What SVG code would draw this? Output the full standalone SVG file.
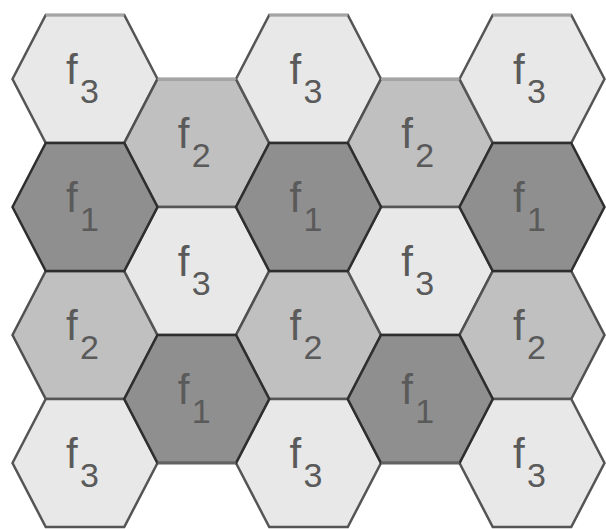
<svg xmlns="http://www.w3.org/2000/svg" width="606" height="529" viewBox="0 0 606 529">
<style>
.f1{fill:#8f8f8f;stroke:#2e2e2e}
.f2{fill:#c0c0c0;stroke:#505050}
.f3{fill:#e8e8e8;stroke:#555555}
.hex use{stroke-width:2.5;stroke-linejoin:miter}
.lbl{font-family:"Liberation Sans",Arial,sans-serif;fill:#5a5a5a;font-size:42px}
.sub{font-size:34px}
.top{stroke:#a4a4a4;stroke-width:2.5}
.bot{stroke:#626262;stroke-width:2.5}
</style>
<defs>
<polygon id="hex" points="-72.5,0 -39.25,-64 39.25,-64 72.5,0 39.25,64 -39.25,64"/>
</defs>
<rect width="606" height="529" fill="#ffffff"/>
<g class="hex">
<g id="c0r0"><use href="#hex" class="f3" x="85" y="79"/><text class="lbl" x="66" y="84">f<tspan class="sub" x="80" y="103">3</tspan></text></g>
<g id="c0r2"><use href="#hex" class="f2" x="85" y="335"/><text class="lbl" x="66" y="340">f<tspan class="sub" x="80" y="359">2</tspan></text></g>
<g id="c0r3"><use href="#hex" class="f3" x="85" y="463"/><text class="lbl" x="66" y="468">f<tspan class="sub" x="80" y="487">3</tspan></text></g>

<g id="c1r0"><use href="#hex" class="f2" x="196.75" y="143"/><text class="lbl" x="177.75" y="148">f<tspan class="sub" x="191.75" y="167">2</tspan></text></g>
<g id="c1r1"><use href="#hex" class="f3" x="196.75" y="271"/><text class="lbl" x="177.75" y="276">f<tspan class="sub" x="191.75" y="295">3</tspan></text></g>

<g id="c2r0"><use href="#hex" class="f3" x="308.5" y="79"/><text class="lbl" x="289.5" y="84">f<tspan class="sub" x="303.5" y="103">3</tspan></text></g>
<g id="c2r2"><use href="#hex" class="f2" x="308.5" y="335"/><text class="lbl" x="289.5" y="340">f<tspan class="sub" x="303.5" y="359">2</tspan></text></g>
<g id="c2r3"><use href="#hex" class="f3" x="308.5" y="463"/><text class="lbl" x="289.5" y="468">f<tspan class="sub" x="303.5" y="487">3</tspan></text></g>

<g id="c3r0"><use href="#hex" class="f2" x="420.25" y="143"/><text class="lbl" x="401.25" y="148">f<tspan class="sub" x="415.25" y="167">2</tspan></text></g>
<g id="c3r1"><use href="#hex" class="f3" x="420.25" y="271"/><text class="lbl" x="401.25" y="276">f<tspan class="sub" x="415.25" y="295">3</tspan></text></g>

<g id="c4r0"><use href="#hex" class="f3" x="532" y="79"/><text class="lbl" x="513" y="84">f<tspan class="sub" x="527" y="103">3</tspan></text></g>
<g id="c4r2"><use href="#hex" class="f2" x="532" y="335"/><text class="lbl" x="513" y="340">f<tspan class="sub" x="527" y="359">2</tspan></text></g>
<g id="c4r3"><use href="#hex" class="f3" x="532" y="463"/><text class="lbl" x="513" y="468">f<tspan class="sub" x="527" y="487">3</tspan></text></g>

<g id="c0r1"><use href="#hex" class="f1" x="85" y="207"/><text class="lbl" x="66" y="212">f<tspan class="sub" x="80" y="231">1</tspan></text></g>
<g id="c1r2"><use href="#hex" class="f1" x="196.75" y="399"/><text class="lbl" x="177.75" y="404">f<tspan class="sub" x="191.75" y="423">1</tspan></text></g>
<g id="c2r1"><use href="#hex" class="f1" x="308.5" y="207"/><text class="lbl" x="289.5" y="212">f<tspan class="sub" x="303.5" y="231">1</tspan></text></g>
<g id="c3r2"><use href="#hex" class="f1" x="420.25" y="399"/><text class="lbl" x="401.25" y="404">f<tspan class="sub" x="415.25" y="423">1</tspan></text></g>
<g id="c4r1"><use href="#hex" class="f1" x="532" y="207"/><text class="lbl" x="513" y="212">f<tspan class="sub" x="527" y="231">1</tspan></text></g>
</g>
<g id="outline">
<line class="top" x1="45.75" y1="15" x2="124.25" y2="15"/>
<line class="top" x1="269.25" y1="15" x2="347.75" y2="15"/>
<line class="top" x1="492.75" y1="15" x2="571.25" y2="15"/>
<line class="top" x1="157.5" y1="79" x2="236" y2="79"/>
<line class="top" x1="381" y1="79" x2="459.5" y2="79"/>
<line class="bot" x1="157.5" y1="463" x2="236" y2="463"/>
<line class="bot" x1="381" y1="463" x2="459.5" y2="463"/>
</g>
</svg>
